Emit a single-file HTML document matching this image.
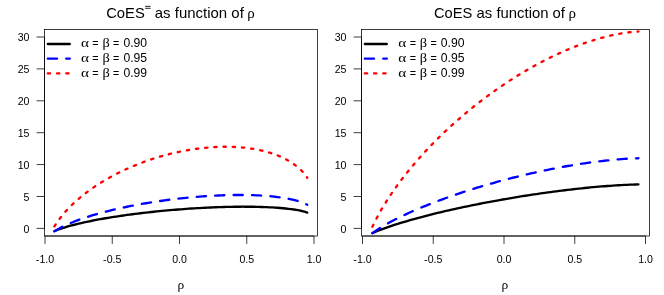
<!DOCTYPE html>
<html><head><meta charset="utf-8"><title>CoES as function of rho</title>
<style>
html,body{margin:0;padding:0;background:#fff}
svg{display:block;will-change:transform}
text{font-family:"Liberation Sans",sans-serif;fill:#000}
.g{font-family:"Liberation Serif",serif}
.t{font-size:15px}
.a{font-size:10.6px}
.l{font-size:12px}
.c{fill:none;stroke-width:2.33;stroke-linecap:round;stroke-linejoin:round}
.k{stroke:#000}
.b{stroke:#00f;stroke-dasharray:9.220 9.220}
.r{stroke:#f00;stroke-dasharray:2.305 6.915}
.f{fill:none;stroke:#000;stroke-width:0.76}
.eq{fill:none;stroke:#000;stroke-width:0.85}
.tk{fill:none;stroke:#000;stroke-width:0.76}
</style></head><body>
<svg width="664" height="295" viewBox="0 0 664 295">
<rect x="0" y="0" width="664" height="295" fill="#fff"/>
<rect class="f" x="44.50" y="29.40" width="272.90" height="206.60"/>
<rect class="f" x="361.50" y="29.40" width="288.00" height="206.60"/>
<path class="tk" d="M36.60 228.40 H44.50 M36.60 196.50 H44.50 M36.60 164.60 H44.50 M36.60 132.70 H44.50 M36.60 100.80 H44.50 M36.60 68.90 H44.50 M36.60 37.00 H44.50 M44.50 228.40 V37.00 M45.00 236.00 V243.90 M112.25 236.00 V243.90 M179.50 236.00 V243.90 M246.75 236.00 V243.90 M314.00 236.00 V243.90 M45.00 236.00 H314.00 M353.60 228.40 H361.50 M353.60 196.50 H361.50 M353.60 164.60 H361.50 M353.60 132.70 H361.50 M353.60 100.80 H361.50 M353.60 68.90 H361.50 M353.60 37.00 H361.50 M361.50 228.40 V37.00 M362.50 236.00 V243.90 M433.25 236.00 V243.90 M504.00 236.00 V243.90 M574.75 236.00 V243.90 M645.50 236.00 V243.90 M362.50 236.00 H645.50"/>
<path class="c k" d="M54.41 231.13 L57.10 230.03 L59.80 229.03 L62.48 228.12 L65.17 227.27 L67.86 226.47 L70.55 225.72 L73.24 225.00 L75.94 224.32 L78.62 223.67 L81.31 223.04 L84.00 222.44 L86.69 221.85 L89.38 221.29 L92.08 220.75 L94.76 220.22 L97.45 219.71 L100.14 219.22 L102.83 218.74 L105.52 218.27 L108.22 217.82 L110.91 217.38 L113.59 216.95 L116.28 216.54 L118.97 216.13 L121.66 215.73 L124.35 215.35 L127.05 214.97 L129.74 214.61 L132.42 214.25 L135.11 213.91 L137.81 213.57 L140.50 213.24 L143.19 212.92 L145.88 212.61 L148.56 212.31 L151.25 212.01 L153.94 211.73 L156.63 211.45 L159.32 211.18 L162.01 210.91 L164.71 210.66 L167.39 210.41 L170.08 210.17 L172.78 209.94 L175.47 209.72 L178.16 209.50 L180.84 209.29 L183.53 209.09 L186.22 208.90 L188.91 208.71 L191.60 208.53 L194.29 208.36 L196.99 208.20 L199.68 208.04 L202.37 207.90 L205.06 207.76 L207.75 207.62 L210.43 207.50 L213.12 207.39 L215.81 207.28 L218.50 207.18 L221.19 207.09 L223.88 207.01 L226.57 206.94 L229.26 206.88 L231.95 206.82 L234.65 206.78 L237.34 206.75 L240.03 206.73 L242.72 206.71 L245.40 206.71 L248.09 206.72 L250.78 206.75 L253.47 206.78 L256.16 206.83 L258.86 206.89 L261.55 206.97 L264.24 207.06 L266.93 207.17 L269.62 207.29 L272.31 207.43 L275.00 207.60 L277.69 207.78 L280.38 207.99 L283.06 208.23 L285.75 208.49 L288.44 208.79 L291.13 209.13 L293.82 209.51 L296.51 209.94 L299.20 210.43 L301.89 211.01 L304.59 211.70 L307.27 212.54"/>
<path class="c b" d="M54.41 231.39 L57.10 229.69 L59.80 228.15 L62.48 226.74 L65.17 225.44 L67.86 224.21 L70.55 223.05 L73.24 221.96 L75.94 220.91 L78.62 219.91 L81.31 218.96 L84.00 218.04 L86.69 217.15 L89.38 216.30 L92.08 215.47 L94.76 214.67 L97.45 213.90 L100.14 213.15 L102.83 212.43 L105.52 211.72 L108.22 211.04 L110.91 210.38 L113.59 209.73 L116.28 209.10 L118.97 208.50 L121.66 207.90 L124.35 207.33 L127.05 206.76 L129.74 206.22 L132.42 205.69 L135.11 205.17 L137.81 204.67 L140.50 204.18 L143.19 203.71 L145.88 203.25 L148.56 202.80 L151.25 202.36 L153.94 201.94 L156.63 201.53 L159.32 201.14 L162.01 200.75 L164.71 200.38 L167.39 200.02 L170.08 199.67 L172.78 199.33 L175.47 199.01 L178.16 198.70 L180.84 198.40 L183.53 198.11 L186.22 197.83 L188.91 197.57 L191.60 197.31 L194.29 197.07 L196.99 196.85 L199.68 196.63 L202.37 196.43 L205.06 196.24 L207.75 196.06 L210.43 195.89 L213.12 195.74 L215.81 195.60 L218.50 195.47 L221.19 195.36 L223.88 195.26 L226.57 195.18 L229.26 195.11 L231.95 195.05 L234.65 195.01 L237.34 194.99 L240.03 194.98 L242.72 194.99 L245.40 195.02 L248.09 195.06 L250.78 195.13 L253.47 195.21 L256.16 195.31 L258.86 195.44 L261.55 195.58 L264.24 195.76 L266.93 195.95 L269.62 196.18 L272.31 196.43 L275.00 196.72 L277.69 197.04 L280.38 197.39 L283.06 197.79 L285.75 198.23 L288.44 198.73 L291.13 199.29 L293.82 199.91 L296.51 200.62 L299.20 201.42 L301.89 202.36 L304.59 203.48 L307.27 204.81"/>
<path class="c r" d="M54.41 226.39 L57.10 222.23 L59.80 218.49 L62.48 215.09 L65.17 211.94 L67.86 209.01 L70.55 206.25 L73.24 203.64 L75.94 201.17 L78.62 198.81 L81.31 196.56 L84.00 194.41 L86.69 192.34 L89.38 190.36 L92.08 188.45 L94.76 186.61 L97.45 184.84 L100.14 183.12 L102.83 181.47 L105.52 179.87 L108.22 178.33 L110.91 176.83 L113.59 175.38 L116.28 173.98 L118.97 172.63 L121.66 171.31 L124.35 170.04 L127.05 168.81 L129.74 167.62 L132.42 166.46 L135.11 165.35 L137.81 164.27 L140.50 163.22 L143.19 162.21 L145.88 161.24 L148.56 160.29 L151.25 159.39 L153.94 158.51 L156.63 157.67 L159.32 156.86 L162.01 156.08 L164.71 155.33 L167.39 154.61 L170.08 153.93 L172.78 153.27 L175.47 152.65 L178.16 152.05 L180.84 151.49 L183.53 150.96 L186.22 150.46 L188.91 149.99 L191.60 149.55 L194.29 149.14 L196.99 148.76 L199.68 148.42 L202.37 148.10 L205.06 147.82 L207.75 147.57 L210.43 147.35 L213.12 147.17 L215.81 147.02 L218.50 146.91 L221.19 146.82 L223.88 146.78 L226.57 146.77 L229.26 146.80 L231.95 146.87 L234.65 146.97 L237.34 147.12 L240.03 147.31 L242.72 147.54 L245.40 147.82 L248.09 148.14 L250.78 148.51 L253.47 148.93 L256.16 149.40 L258.86 149.93 L261.55 150.52 L264.24 151.17 L266.93 151.88 L269.62 152.67 L272.31 153.53 L275.00 154.47 L277.69 155.49 L280.38 156.62 L283.06 157.85 L285.75 159.20 L288.44 160.68 L291.13 162.31 L293.82 164.12 L296.51 166.14 L299.20 168.42 L301.89 171.03 L304.59 174.07 L307.27 177.75"/>
<path class="c k" d="M372.40 233.16 L375.24 231.93 L378.06 230.77 L380.89 229.66 L383.73 228.61 L386.56 227.59 L389.38 226.61 L392.21 225.65 L395.05 224.73 L397.88 223.83 L400.70 222.95 L403.53 222.09 L406.37 221.26 L409.19 220.43 L412.02 219.63 L414.86 218.84 L417.69 218.06 L420.51 217.30 L423.34 216.56 L426.18 215.82 L429.00 215.10 L431.83 214.38 L434.66 213.68 L437.50 212.99 L440.32 212.31 L443.15 211.64 L445.99 210.98 L448.81 210.33 L451.64 209.69 L454.47 209.06 L457.31 208.44 L460.13 207.82 L462.96 207.21 L465.80 206.62 L468.62 206.02 L471.45 205.44 L474.28 204.87 L477.12 204.30 L479.94 203.74 L482.77 203.19 L485.61 202.64 L488.44 202.11 L491.26 201.58 L494.09 201.05 L496.93 200.54 L499.75 200.03 L502.58 199.52 L505.42 199.03 L508.25 198.54 L511.07 198.06 L513.90 197.59 L516.74 197.12 L519.57 196.66 L522.39 196.20 L525.23 195.76 L528.06 195.32 L530.88 194.88 L533.72 194.46 L536.54 194.04 L539.38 193.62 L542.20 193.22 L545.03 192.82 L547.87 192.43 L550.69 192.04 L553.52 191.67 L556.36 191.30 L559.18 190.93 L562.01 190.58 L564.85 190.23 L567.67 189.89 L570.50 189.56 L573.34 189.23 L576.16 188.92 L579.00 188.61 L581.83 188.31 L584.65 188.01 L587.49 187.73 L590.32 187.46 L593.14 187.19 L595.98 186.93 L598.81 186.69 L601.63 186.45 L604.47 186.22 L607.30 186.01 L610.12 185.80 L612.95 185.61 L615.78 185.43 L618.62 185.26 L621.44 185.10 L624.27 184.95 L627.11 184.82 L629.93 184.71 L632.76 184.61 L635.60 184.53 L638.42 184.46"/>
<path class="c b" d="M372.40 233.16 L375.24 231.15 L378.06 229.26 L380.89 227.48 L383.73 225.78 L386.56 224.15 L389.38 222.58 L392.21 221.06 L395.05 219.59 L397.88 218.16 L400.70 216.77 L403.53 215.41 L406.37 214.09 L409.19 212.79 L412.02 211.52 L414.86 210.28 L417.69 209.07 L420.51 207.87 L423.34 206.70 L426.18 205.55 L429.00 204.42 L431.83 203.31 L434.66 202.22 L437.50 201.14 L440.32 200.08 L443.15 199.04 L445.99 198.02 L448.81 197.01 L451.64 196.02 L454.47 195.04 L457.31 194.08 L460.13 193.13 L462.96 192.19 L465.80 191.27 L468.62 190.36 L471.45 189.47 L474.28 188.59 L477.12 187.72 L479.94 186.86 L482.77 186.01 L485.61 185.18 L488.44 184.36 L491.26 183.55 L494.09 182.76 L496.93 181.97 L499.75 181.20 L502.58 180.43 L505.42 179.68 L508.25 178.94 L511.07 178.22 L513.90 177.50 L516.74 176.79 L519.57 176.10 L522.39 175.42 L525.23 174.74 L528.06 174.08 L530.88 173.43 L533.72 172.79 L536.54 172.17 L539.38 171.55 L542.20 170.95 L545.03 170.35 L547.87 169.77 L550.69 169.20 L553.52 168.64 L556.36 168.09 L559.18 167.56 L562.01 167.03 L564.85 166.52 L567.67 166.02 L570.50 165.54 L573.34 165.06 L576.16 164.60 L579.00 164.15 L581.83 163.71 L584.65 163.29 L587.49 162.88 L590.32 162.48 L593.14 162.10 L595.98 161.73 L598.81 161.38 L601.63 161.04 L604.47 160.72 L607.30 160.41 L610.12 160.13 L612.95 159.85 L615.78 159.60 L618.62 159.36 L621.44 159.14 L624.27 158.94 L627.11 158.76 L629.93 158.61 L632.76 158.47 L635.60 158.36 L638.42 158.28"/>
<path class="c r" d="M372.40 226.77 L375.24 220.97 L378.06 215.56 L380.89 210.49 L383.73 205.70 L386.56 201.13 L389.38 196.74 L392.21 192.53 L395.05 188.47 L397.88 184.53 L400.70 180.72 L403.53 177.02 L406.37 173.42 L409.19 169.91 L412.02 166.49 L414.86 163.15 L417.69 159.89 L420.51 156.70 L423.34 153.57 L426.18 150.51 L429.00 147.51 L431.83 144.57 L434.66 141.69 L437.50 138.85 L440.32 136.07 L443.15 133.34 L445.99 130.66 L448.81 128.02 L451.64 125.43 L454.47 122.88 L457.31 120.37 L460.13 117.91 L462.96 115.48 L465.80 113.09 L468.62 110.75 L471.45 108.44 L474.28 106.17 L477.12 103.93 L479.94 101.73 L482.77 99.56 L485.61 97.43 L488.44 95.34 L491.26 93.28 L494.09 91.25 L496.93 89.25 L499.75 87.29 L502.58 85.36 L505.42 83.46 L508.25 81.59 L511.07 79.76 L513.90 77.96 L516.74 76.19 L519.57 74.44 L522.39 72.74 L525.23 71.06 L528.06 69.41 L530.88 67.79 L533.72 66.21 L536.54 64.65 L539.38 63.13 L542.20 61.64 L545.03 60.18 L547.87 58.75 L550.69 57.35 L553.52 55.98 L556.36 54.65 L559.18 53.34 L562.01 52.07 L564.85 50.83 L567.67 49.62 L570.50 48.45 L573.34 47.31 L576.16 46.20 L579.00 45.13 L581.83 44.09 L584.65 43.08 L587.49 42.11 L590.32 41.18 L593.14 40.28 L595.98 39.42 L598.81 38.60 L601.63 37.81 L604.47 37.07 L607.30 36.36 L610.12 35.70 L612.95 35.07 L615.78 34.49 L618.62 33.95 L621.44 33.46 L624.27 33.01 L627.11 32.61 L629.93 32.26 L632.76 31.96 L635.60 31.71 L638.42 31.52"/>
<path class="c k" d="M47.80 44.00 H69.80"/>
<path class="c b" d="M47.80 58.70 H69.80"/>
<path class="c r" d="M47.80 73.40 H69.80"/>
<path class="c k" d="M364.80 44.00 H386.80"/>
<path class="c b" d="M364.80 58.70 H386.80"/>
<path class="c r" d="M364.80 73.40 H386.80"/>
<text class="a" text-anchor="end" x="29.50" y="232.70">0</text>
<text class="a" text-anchor="end" x="29.50" y="200.80">5</text>
<text class="a" text-anchor="end" x="29.50" y="168.90">10</text>
<text class="a" text-anchor="end" x="29.50" y="137.00">15</text>
<text class="a" text-anchor="end" x="29.50" y="105.10">20</text>
<text class="a" text-anchor="end" x="29.50" y="73.20">25</text>
<text class="a" text-anchor="end" x="29.50" y="41.30">30</text>
<text class="a" text-anchor="middle" x="45.00" y="262.50">-1.0</text>
<text class="a" text-anchor="middle" x="112.25" y="262.50">-0.5</text>
<text class="a" text-anchor="middle" x="179.50" y="262.50">0.0</text>
<text class="a" text-anchor="middle" x="246.75" y="262.50">0.5</text>
<text class="a" text-anchor="middle" x="314.00" y="262.50">1.0</text>
<text class="g" style="font-size:11.5px" text-anchor="middle" transform="translate(180.95 289.30) scale(1.17 1.03)">ρ</text>
<text class="l g" transform="translate(80.90 47.20) scale(1.270 1)">α</text>
<text class="l " transform="translate(92.30 47.20) scale(0.900 1)">=</text>
<text class="l g" transform="translate(102.40 47.20) scale(1.200 1)">β</text>
<text class="l " transform="translate(113.00 47.20) scale(0.900 1)">=</text>
<text class="l " transform="translate(123.40 47.20) scale(1.015 1)">0.90</text>
<text class="l g" transform="translate(80.90 61.90) scale(1.270 1)">α</text>
<text class="l " transform="translate(92.30 61.90) scale(0.900 1)">=</text>
<text class="l g" transform="translate(102.40 61.90) scale(1.200 1)">β</text>
<text class="l " transform="translate(113.00 61.90) scale(0.900 1)">=</text>
<text class="l " transform="translate(123.40 61.90) scale(1.015 1)">0.95</text>
<text class="l g" transform="translate(80.90 76.60) scale(1.270 1)">α</text>
<text class="l " transform="translate(92.30 76.60) scale(0.900 1)">=</text>
<text class="l g" transform="translate(102.40 76.60) scale(1.200 1)">β</text>
<text class="l " transform="translate(113.00 76.60) scale(0.900 1)">=</text>
<text class="l " transform="translate(123.40 76.60) scale(1.015 1)">0.99</text>
<text class="a" text-anchor="end" x="346.50" y="232.70">0</text>
<text class="a" text-anchor="end" x="346.50" y="200.80">5</text>
<text class="a" text-anchor="end" x="346.50" y="168.90">10</text>
<text class="a" text-anchor="end" x="346.50" y="137.00">15</text>
<text class="a" text-anchor="end" x="346.50" y="105.10">20</text>
<text class="a" text-anchor="end" x="346.50" y="73.20">25</text>
<text class="a" text-anchor="end" x="346.50" y="41.30">30</text>
<text class="a" text-anchor="middle" x="362.50" y="262.50">-1.0</text>
<text class="a" text-anchor="middle" x="433.25" y="262.50">-0.5</text>
<text class="a" text-anchor="middle" x="504.00" y="262.50">0.0</text>
<text class="a" text-anchor="middle" x="574.75" y="262.50">0.5</text>
<text class="a" text-anchor="middle" x="645.50" y="262.50">1.0</text>
<text class="g" style="font-size:11.5px" text-anchor="middle" transform="translate(504.90 289.30) scale(1.17 1.03)">ρ</text>
<text class="l g" transform="translate(398.35 47.20) scale(1.270 1)">α</text>
<text class="l " transform="translate(409.75 47.20) scale(0.900 1)">=</text>
<text class="l g" transform="translate(419.85 47.20) scale(1.200 1)">β</text>
<text class="l " transform="translate(430.45 47.20) scale(0.900 1)">=</text>
<text class="l " transform="translate(440.85 47.20) scale(1.015 1)">0.90</text>
<text class="l g" transform="translate(398.35 61.90) scale(1.270 1)">α</text>
<text class="l " transform="translate(409.75 61.90) scale(0.900 1)">=</text>
<text class="l g" transform="translate(419.85 61.90) scale(1.200 1)">β</text>
<text class="l " transform="translate(430.45 61.90) scale(0.900 1)">=</text>
<text class="l " transform="translate(440.85 61.90) scale(1.015 1)">0.95</text>
<text class="l g" transform="translate(398.35 76.60) scale(1.270 1)">α</text>
<text class="l " transform="translate(409.75 76.60) scale(0.900 1)">=</text>
<text class="l g" transform="translate(419.85 76.60) scale(1.200 1)">β</text>
<text class="l " transform="translate(430.45 76.60) scale(0.900 1)">=</text>
<text class="l " transform="translate(440.85 76.60) scale(1.015 1)">0.99</text>
<text class="t" x="106.2" y="18.00" textLength="38.6" lengthAdjust="spacingAndGlyphs">CoES</text>
<path class="eq" d="M145.1 6.35H150.6M145.1 8.3H150.6"/>
<text class="t" x="154.8" y="18.00" textLength="89.0" lengthAdjust="spacingAndGlyphs">as function of</text>
<text class="t g" transform="translate(247.3 18.00)">ρ</text>
<text class="t" x="433.9" y="18.00" textLength="38.4" lengthAdjust="spacingAndGlyphs">CoES</text>
<text class="t" x="476.6" y="18.00" textLength="88.4" lengthAdjust="spacingAndGlyphs">as function of</text>
<text class="t g" transform="translate(568.5 18.00)">ρ</text>
</svg>
</body></html>
